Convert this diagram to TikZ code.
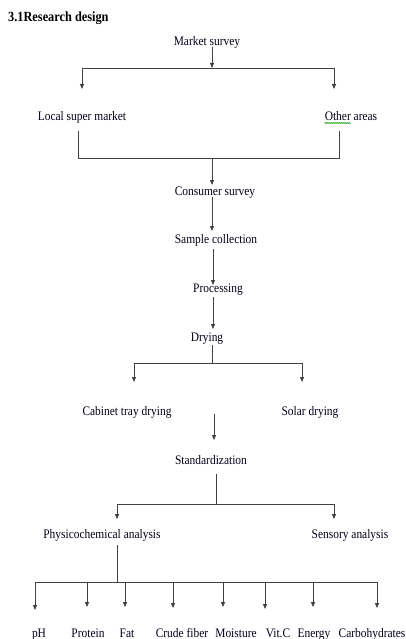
\documentclass[tikz,border=0pt]{standalone}
\usepackage{fontspec}
\setmainfont{Liberation Serif}[FakeStretch=0.88]
\usetikzlibrary{arrows.meta,decorations.pathmorphing}
\begin{document}
\begin{tikzpicture}[x=1pt,y=-1pt,
  font=\fontsize{13}{15}\selectfont,
  txt/.style={inner sep=0pt, anchor=base, text=black!90!blue},
  line/.style={draw=black!75, line width=0.8pt},
  arr/.style={line, -{Triangle[length=5pt,width=4pt]}}]
\useasboundingbox[fill=white] (0,0) rectangle (406,639);
\node[anchor=base west, inner sep=0pt, font=\fontsize{14}{16}\selectfont\bfseries] (title) at (8,21.5) {3.1Research design};
% text nodes
\node[txt] (ms)  at (207,46)  {Market survey};
\node[txt] (lsm) at (82,121)  {Local super market};
\node[txt] (oa)  at (351,121) {Other areas};
\node[txt] (cs)  at (215,195) {Consumer survey};
\node[txt] (sc)  at (216,243) {Sample collection};
\node[txt] (pr)  at (218,292) {Processing};
\node[txt] (dr)  at (207,341) {Drying};
\node[txt] (ctd) at (127,415) {Cabinet tray drying};
\node[txt] (sd)  at (310,415) {Solar drying};
\node[txt] (st)  at (211,464) {Standardization};
\node[txt] (pca) at (102,538) {Physicochemical analysis};
\node[txt] (sa)  at (350,538) {Sensory analysis};
\node[txt] (ph)  at (39,637)  {pH};
\node[txt] (pro) at (88,637)  {Protein};
\node[txt] (fat) at (127,637) {Fat};
\node[txt] (cf)  at (182,637) {Crude fiber};
\node[txt] (moi) at (236,637) {Moisture};
\node[txt] (vc)  at (278,637) {Vit.C};
\node[txt] (en)  at (314,637) {Energy};
\node[txt] (car) at (372,637) {Carbohydrates};
% spell-check underline
\draw[green!60!black, line width=0.5pt, decorate, decoration={zigzag,amplitude=0.6pt,segment length=2pt}]
  ([xshift=0pt,yshift=-2pt]oa.base west) -- ++(26,0);
% coordinates
\coordinate (m0) at (212,47);  \coordinate (m1) at (212,68);
\coordinate (ml) at (82,68);   \coordinate (mr) at (334,68);
\coordinate (lt) at (82,89);   \coordinate (rt) at (334,89);
\coordinate (lb) at (78,131);  \coordinate (lbb) at (78,158);
\coordinate (rb) at (339,131); \coordinate (rbb) at (339,158);
\coordinate (c0) at (212,158); \coordinate (c1) at (212,185);
\coordinate (s0) at (212,197); \coordinate (s1) at (212,231);
\coordinate (p0) at (213,249); \coordinate (p1) at (213,285);
\coordinate (d0) at (213,297); \coordinate (d1) at (213,329);
\coordinate (b0) at (212,345); \coordinate (b1) at (212,363);
\coordinate (bl) at (134,363); \coordinate (br) at (302,363);
\coordinate (blt) at (134,382); \coordinate (brt) at (302,382);
\coordinate (t0) at (214,414); \coordinate (t1) at (214,440);
\coordinate (u0) at (216,474); \coordinate (u1) at (216,504);
\coordinate (ul) at (117,504); \coordinate (ur) at (334,504);
\coordinate (ult) at (117,519); \coordinate (urt) at (334,519);
\coordinate (v0) at (117,545); \coordinate (v1) at (117,582);
\coordinate (vl) at (35,582);  \coordinate (vr) at (377,582);
% connectors
\draw[arr] (m0) -- (m1);
\draw[arr] (m1) -- (ml) -- (lt);
\draw[arr] (m1) -- (mr) -- (rt);
\draw[line] (lb) -- (lbb) -- (rbb) -- (rb);
\draw[arr] (c0) -- (c1);
\draw[arr] (s0) -- (s1);
\draw[arr] (p0) -- (p1);
\draw[arr] (d0) -- (d1);
\draw[line] (b0) -- (b1);
\draw[arr] (b1) -- (bl) -- (blt);
\draw[arr] (b1) -- (br) -- (brt);
\draw[arr] (t0) -- (t1);
\draw[arr] (u0) -- (u1) -- (ul) -- (ult);
\draw[arr] (u1) -- (ur) -- (urt);
\draw[line] (v0) -- (v1);
\draw[line] (vl) -- (vr);
\foreach \x/\y/\n in {35/610/a,87/607/b,125/607/c,173/608/d,223/607/e,265/609/f,313/607/g,377/608/h}{
  \coordinate (q\n) at (\x,582);
  \coordinate (e\n) at (\x,\y);
  \draw[arr] (q\n) -- (e\n);
}
\end{tikzpicture}
\end{document}
